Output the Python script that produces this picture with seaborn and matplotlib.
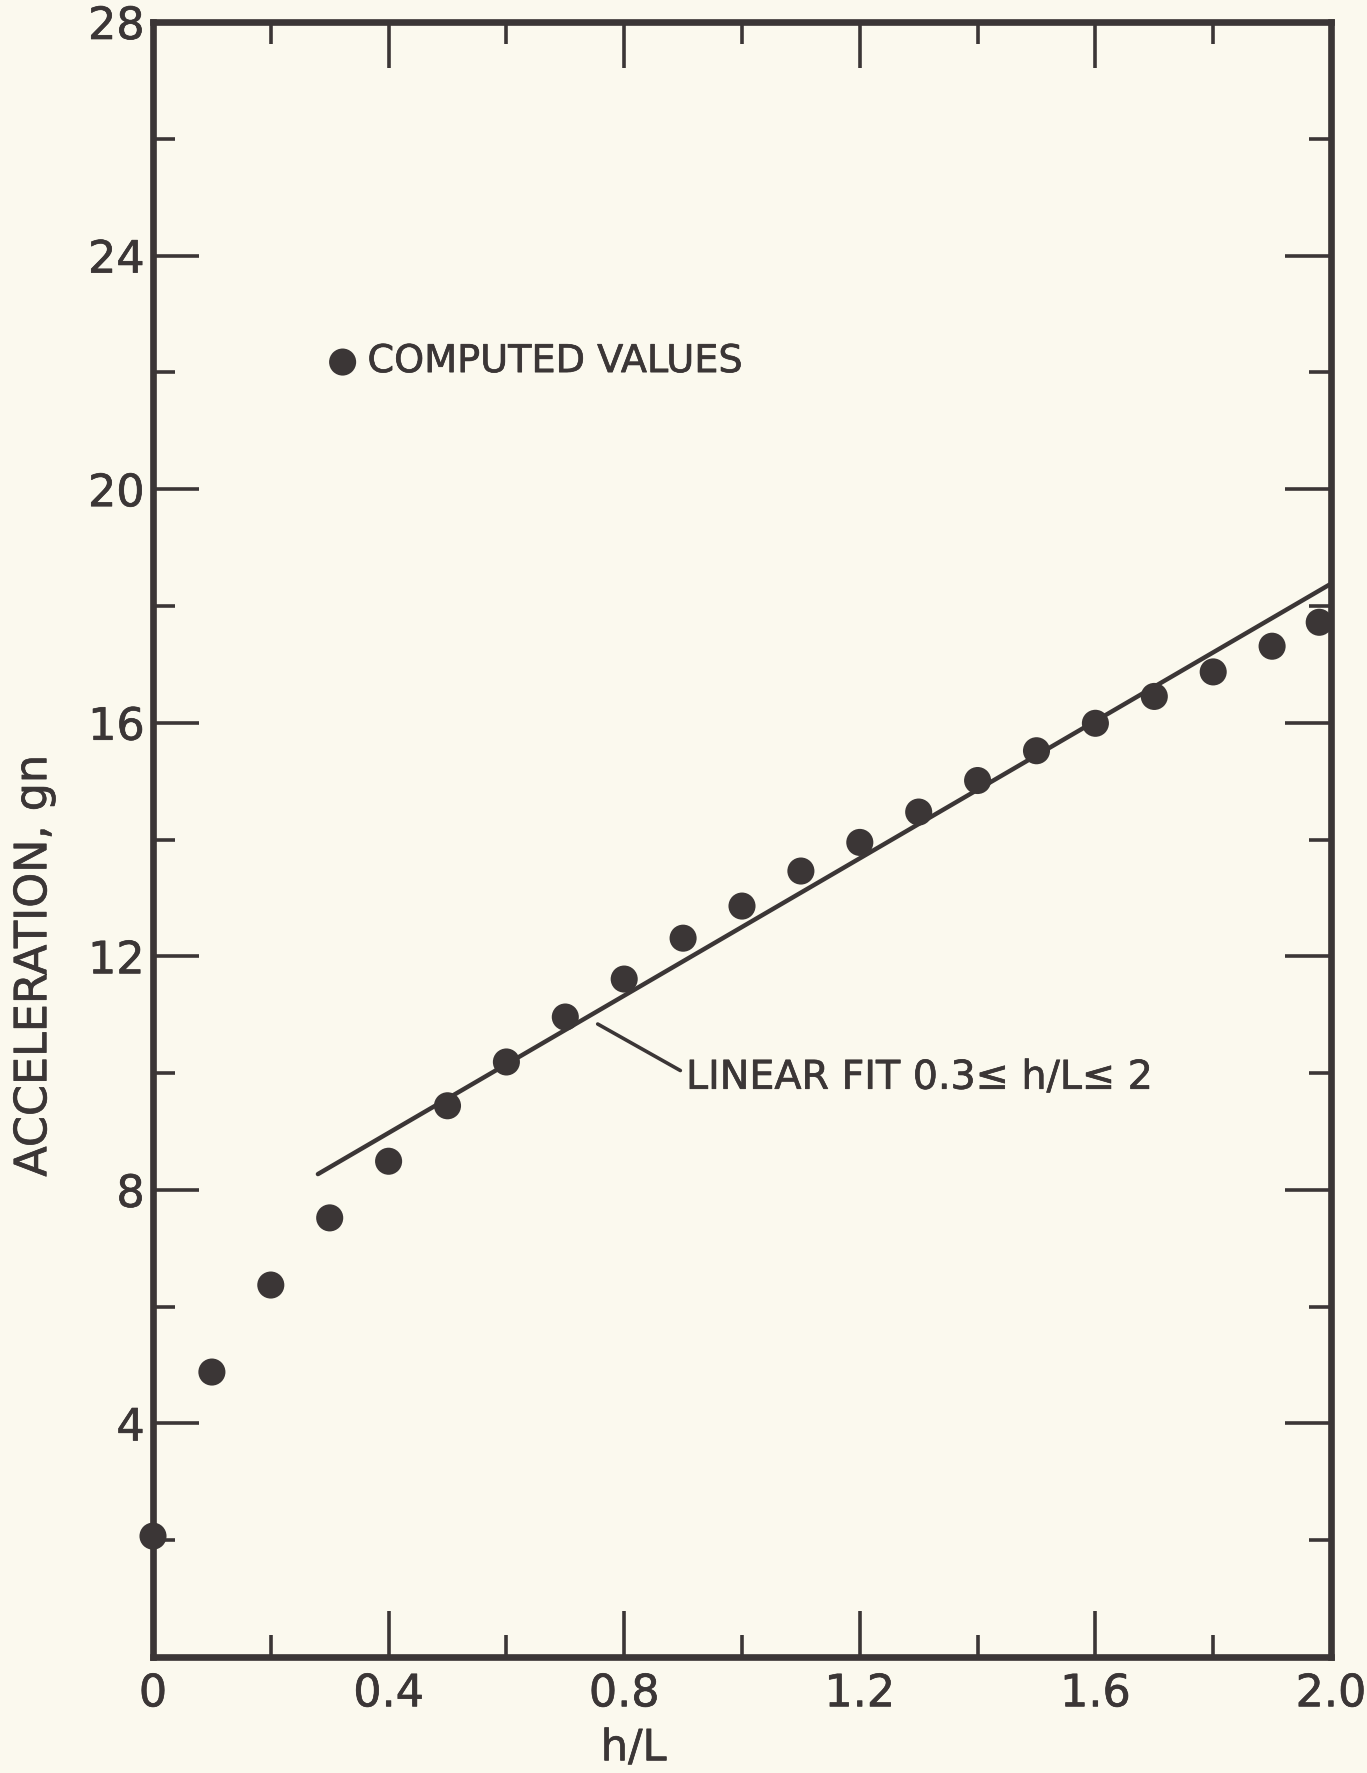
import numpy as np
import pandas as pd
import matplotlib.pyplot as plt
import matplotlib.patheffects as pe
import seaborn as sns

# Computed values
h_over_L = [0.0, 0.1, 0.2, 0.3, 0.4, 0.5, 0.6, 0.7, 0.8, 0.9, 1.0,
            1.1, 1.2, 1.3, 1.4, 1.5, 1.6, 1.7, 1.8, 1.9, 1.98]
accel_gn = [2.07, 4.88, 6.37, 7.52, 8.49, 9.44, 10.19, 10.96, 11.61, 12.31, 12.86,
            13.46, 13.95, 14.47, 15.01, 15.52, 15.99, 16.45, 16.87, 17.31, 17.72]
# Linear fit line endpoints (0.3 <= h/L <= 2)
fit_x = [0.28, 2.0]
fit_y = [8.27, 18.38]

x_ticks = [0.0, 0.4, 0.8, 1.2, 1.6, 2.0]
x_ticklabels = ['0', '0.4', '0.8', '1.2', '1.6', '2.0']
y_ticks = [4, 8, 12, 16, 20, 24, 28]
y_ticklabels = ['4', '8', '12', '16', '20', '24', '28']

paper = '#FBF9EE'
ink = '#3B3636'

sns.set_theme(style='ticks')
plt.rcParams['font.family'] = ['DejaVu Sans']

df = pd.DataFrame({'h/L': h_over_L, 'acc': accel_gn})
df_fit = pd.DataFrame({'h/L': fit_x, 'acc': fit_y})

fig = plt.figure(figsize=(13.67, 17.74), dpi=100, facecolor=paper)
ax = fig.add_axes([153/1367, 1 - 1658/1774, 1178/1367, 1635/1774])
ax.set_facecolor(paper)

# fit line and computed points
sns.lineplot(data=df_fit, x='h/L', y='acc', ax=ax, color=ink, lw=3.2, zorder=2)
sns.scatterplot(data=df, x='h/L', y='acc', ax=ax, color=ink, s=380, edgecolor='none',
                zorder=3, clip_on=False, label='COMPUTED VALUES')

ax.set_xlim(0, 2.0)
ax.set_ylim(0, 28)

ax.set_xticks(x_ticks)
ax.set_xticklabels(x_ticklabels)
ax.set_xticks(np.arange(0.2, 2.0, 0.4), minor=True)
ax.set_yticks(y_ticks)
ax.set_yticklabels(y_ticklabels)
ax.set_yticks(np.arange(2, 28, 4), minor=True)

ax.tick_params(which='both', direction='in', top=True, right=True, color=ink,
               width=2.6, labelcolor=ink, labelsize=32)
ax.tick_params(which='major', length=33)
ax.tick_params(which='minor', length=16)
ax.tick_params(axis='x', pad=11)
ax.tick_params(axis='y', pad=6)

for sp in ax.spines.values():
    sp.set_linewidth(4.8)
    sp.set_color(ink)

ax.set_xlabel('h/L', fontsize=31, color=ink)
ax.xaxis.set_label_coords(0.408, -0.043)
ax.set_ylabel('ACCELERATION, gn', fontsize=32, color=ink)
ax.yaxis.set_label_coords(-0.083, 0.423)

leg = ax.legend(loc='center left', bbox_to_anchor=(0.148, 0.792), frameon=False,
                fontsize=27.5, handlelength=0.8, handletextpad=0.25,
                borderpad=0, borderaxespad=0)
for t in leg.get_texts():
    t.set_color(ink)

ax.annotate('LINEAR FIT 0.3≤ h/L≤ 2', xy=(0.755, 10.84), xytext=(0.905, 9.92),
            fontsize=28.5, color=ink, ha='left', va='center',
            arrowprops=dict(arrowstyle='-', color=ink, lw=2.6,
                            shrinkA=2, shrinkB=0, relpos=(0, 0.6)))

# thicken lettering a little, like the hand-lettered original
stroke = [pe.withStroke(linewidth=0.5, foreground=ink)]
for t in (ax.get_xticklabels() + ax.get_yticklabels() + leg.get_texts()
          + [ax.xaxis.label, ax.yaxis.label] + ax.texts):
    t.set_path_effects(stroke)

fig.savefig('out.png', dpi=100, facecolor=paper)
